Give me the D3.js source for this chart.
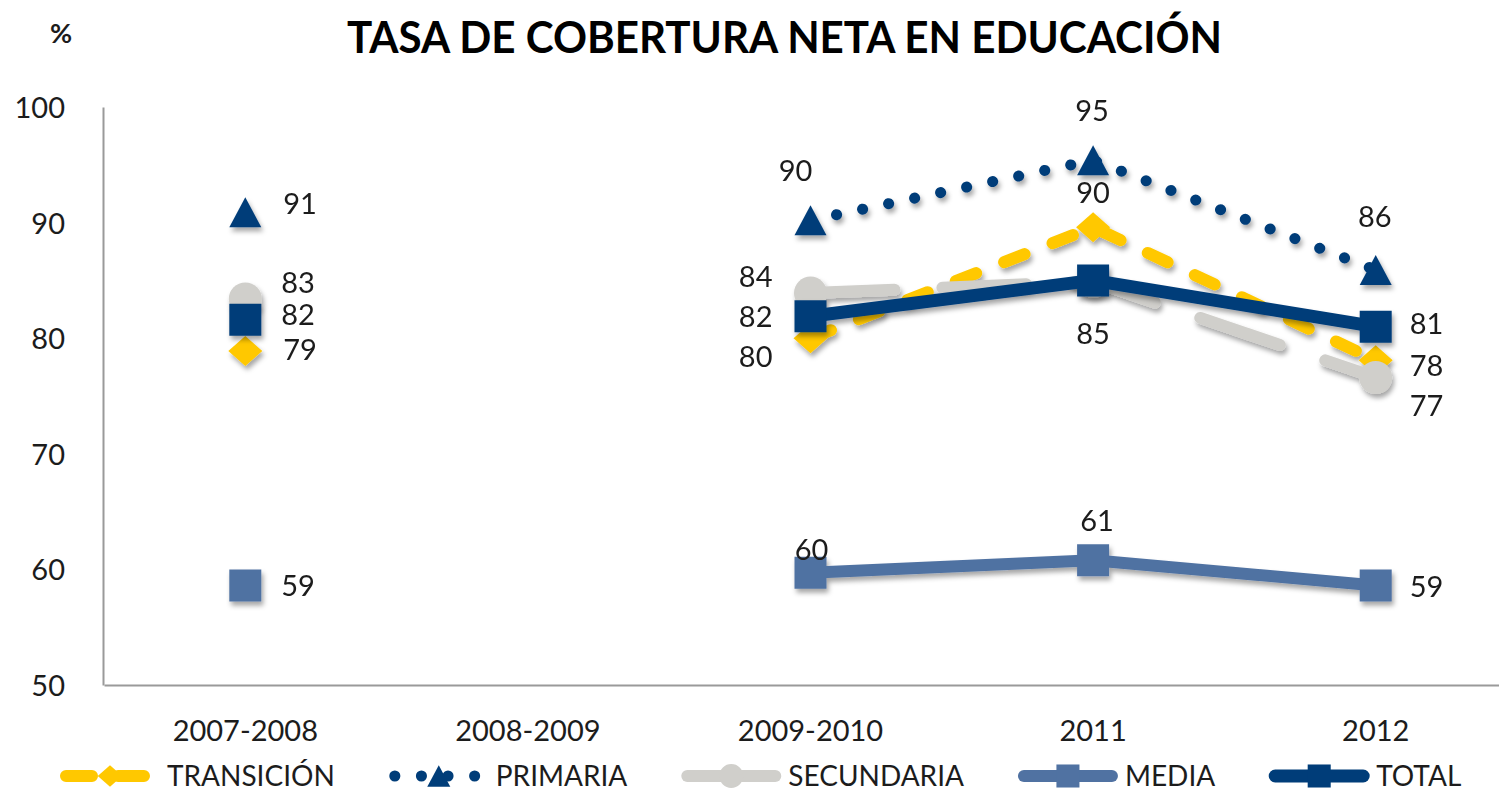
<!DOCTYPE html>
<html>
 <head>
  <meta charset="utf-8" />
  <title>Tasa de cobertura neta en educación</title>
  <style>
   body, html {
    margin: 0;
    padding: 0;
    overflow: hidden;
    background-color: white;
   }
   svg text {
    font-family: Lato, "Open Sans", sans-serif;
    fill: #1c1c1c;
   }
  </style>
  <script src="https://cdnjs.cloudflare.com/ajax/libs/d3/7.9.0/d3.min.js"></script>
 </head>
 <body>
  <svg width="1499" height="790"></svg>
  <script>
   // values (null = no data that year)
   const categories = ["2007-2008", "2008-2009", "2009-2010", "2011", "2012"];
   const transicion = [78.9, null, 80.0, 89.6, 78.1];
   const primaria = [90.9, null, 90.2, 95.4, 85.9];
   const secundaria = [83.4, null, 83.9, 84.9, 76.6];
   const media = [58.6, null, 59.7, 60.8, 58.6];
   const total = [81.6, null, 81.9, 85.0, 81.0];
   const seriesNames = ["TRANSICIÓN", "PRIMARIA", "SECUNDARIA", "MEDIA", "TOTAL"];
   const yTicks = [50, 60, 70, 80, 90, 100];

   // where each data label sits relative to its point: [anchor, dx, dy]
   const labelPlacement = [
    [["start", 38, -1], null, ["end", -38, 18], ["middle", 0, -35], ["start", 34, 5]],
    [["start", 38, -9], null, ["middle", -15, -50], ["middle", -1, -50], ["middle", -1, -53]],
    [["start", 36, -16], null, ["end", -38, -17], ["middle", 0, 52], ["start", 34, 28]],
    [["start", 36, 0], null, ["middle", 1, -23], ["middle", 4, -40], ["start", 34, 1]],
    [["start", 36, -5], null, ["end", -38, 0], null, ["start", 34, -3]]
   ];

   const styles = [
    {color: "#FFC800", width: 12, dash: "22 30", marker: "diamond"},
    {color: "#003D79", width: 11, dash: "0.1 26.5", marker: "triangle"},
    {color: "#D0CFCB", width: 12, dash: "84 48", marker: "circle"},
    {color: "#5072A2", width: 12, dash: null, marker: "square"},
    {color: "#003D79", width: 13, dash: null, marker: "square"}
   ];

   const series = [transicion, primaria, secundaria, media, total].map((vals, i) => ({
    name: seriesNames[i],
    style: styles[i],
    labels: labelPlacement[i],
    points: vals.map((v, j) => ({cat: categories[j], v: v}))
   }));

   const svg = d3.select("svg");
   const fontSize = 29;

   const x = d3.scaleBand().domain(categories).range([104, 1517]);
   const y = d3.scaleLinear().domain([50, 100]).range([685, 107]);
   const cx = c => x(c) + x.bandwidth() / 2;

   const defs = svg.append("defs");
   defs.append("filter")
    .attr("id", "shadow")
    .attr("x", "-20%").attr("y", "-20%")
    .attr("width", "140%").attr("height", "160%")
    .append("feDropShadow")
    .attr("dx", 2)
    .attr("dy", 4)
    .attr("stdDeviation", 2.5)
    .attr("flood-color", "#000")
    .attr("flood-opacity", 0.35);

   function markerPath(type, s) {
    switch (type) {
     case "square":
      return `M${-16 * s},${-16 * s}H${16 * s}V${16 * s}H${-16 * s}Z`;
     case "triangle":
      return `M0,${-15 * s}L${16 * s},${15 * s}H${-16 * s}Z`;
     case "diamond":
      return `M0,${-15 * s}L${17 * s},0L0,${15 * s}L${-17 * s},0Z`;
     default:
      const r = 16.5 * s;
      return `M${-r},0A${r},${r} 0 1,0 ${r},0A${r},${r} 0 1,0 ${-r},0Z`;
    }
   }

   // title
   svg.append("text")
    .attr("x", 784.5)
    .attr("y", 53)
    .attr("text-anchor", "middle")
    .attr("font-size", 43)
    .attr("font-weight", "bold")
    .attr("textLength", 875)
    .attr("lengthAdjust", "spacingAndGlyphs")
    .style("fill", "#000")
    .text("TASA DE COBERTURA NETA EN EDUCACIÓN");

   svg.append("text")
    .attr("x", 50)
    .attr("y", 43)
    .attr("font-size", 27)
    .attr("font-weight", "bold")
    .text("%");

   // axes
   const yAxis = svg.append("g")
    .attr("transform", "translate(103,0)")
    .call(d3.axisLeft(y).tickValues(yTicks).tickSize(0).tickPadding(38));

   const xAxis = svg.append("g")
    .attr("transform", "translate(0,685)")
    .call(d3.axisBottom(x).tickSize(0).tickPadding(35));

   [yAxis, xAxis].forEach(a => {
    a.select(".domain").attr("stroke", "#9a9a9a").attr("stroke-width", 2);
    a.selectAll("text")
     .attr("font-size", fontSize)
     .style("font-family", "Lato, sans-serif")
     .style("fill", "#1c1c1c");
   });
   yAxis.selectAll("text").attr("dy", "0.36em");

   // lines and markers, series by series
   const line = d3.line()
    .defined(d => d.v != null)
    .x(d => cx(d.cat))
    .y(d => y(d.v));

   series.forEach(s => {
    const g = svg.append("g").attr("filter", "url(#shadow)");

    g.append("path")
     .datum(s.points)
     .attr("d", line)
     .attr("fill", "none")
     .attr("stroke", s.style.color)
     .attr("stroke-width", s.style.width)
     .attr("stroke-linecap", s.style.dash ? "round" : "butt")
     .attr("stroke-linejoin", "round")
     .attr("stroke-dasharray", s.style.dash);

    g.selectAll(".marker")
     .data(s.points.filter(d => d.v != null))
     .enter().append("path")
     .attr("class", "marker")
     .attr("transform", d => `translate(${cx(d.cat)},${y(d.v)})`)
     .attr("d", markerPath(s.style.marker, 1))
     .attr("fill", s.style.color);
   });

   // data labels
   series.forEach(s => {
    svg.append("g").selectAll("text")
     .data(s.points.map((d, j) => ({d: d, p: s.labels[j]})).filter(o => o.d.v != null && o.p))
     .enter().append("text")
     .attr("x", o => cx(o.d.cat) + o.p[1])
     .attr("y", o => y(o.d.v) + o.p[2] + 0.36 * fontSize)
     .attr("text-anchor", o => o.p[0])
     .attr("font-size", fontSize)
     .text(o => d3.format(".0f")(o.d.v));
   });

   // legend
   const legend = svg.append("g").attr("transform", "translate(0,776)");
   let lx = 62;
   series.forEach(s => {
    const item = legend.append("g").attr("transform", `translate(${lx},0)`);
    item.append("path")
     .attr("d", "M4,0H92")
     .attr("stroke", s.style.color)
     .attr("stroke-width", s.style.width)
     .attr("stroke-linecap", "round")
     .attr("stroke-dasharray", s.style.dash === "22 30" ? "26 26" : s.style.dash === "84 48" ? null : s.style.dash);
    item.append("path")
     .attr("transform", "translate(48,0)")
     .attr("d", markerPath(s.style.marker, 0.72))
     .attr("fill", s.style.color);
    const t = item.append("text")
     .attr("x", 105)
     .attr("y", 9.5)
     .attr("font-size", 28)
     .text(s.name);
    lx += 105 + t.node().getComputedTextLength() + 56;
   });
  </script>
 </body>
</html>
